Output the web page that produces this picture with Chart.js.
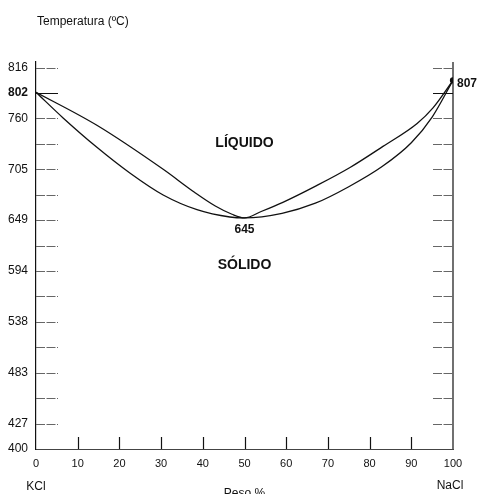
<!DOCTYPE html>
<html>
<head>
<meta charset="utf-8">
<script src="https://cdn.jsdelivr.net/npm/chart.js@4.4.1/dist/chart.umd.min.js"></script>
<style>
  html, body { margin: 0; padding: 0; background: #fff; }
  #wrap { width: 477px; height: 494px; }
</style>
</head>
<body>
<div id="wrap"><canvas id="diagram"></canvas></div>
<script>
    // peso % NaCl y temperatura
    const liquidusX = [0, 14.6, 30.5, 38, 43, 47, 50, 54, 59.2, 67.4, 75.3, 83.2, 91.4, 95.2, 100];
    const liquidusT = [789, 753, 705, 680, 665, 656, 652, 659, 669, 687.5, 707, 730, 755, 772, 802];

    const solidusX = [0, 6.5, 14.6, 22.5, 30.5, 38.6, 46.5, 50, 59, 67, 75, 83, 90, 95, 100];
    const solidusT = [789, 761, 729, 701, 677, 661, 653, 652, 657, 668, 686, 708, 734, 762, 802];

    // eje de temperaturas (marcas cada 50 ºF)
    const yTickValues = [400, 427.7, 455.5, 483.2, 510.9, 538.7, 566.4, 594.1, 621.9, 649.6, 677.3, 705.1, 732.8, 760.5, 788.3, 816];
    const yTickLabels = ['400', '427', '', '483', '', '538', '', '594', '', '649', '', '705', '', '760', '802', '816'];

    const xTickValues = [10, 20, 30, 40, 50, 60, 70, 80, 90];

    const FONT = "'Liberation Sans', Arial, Helvetica, sans-serif";
    Chart.defaults.font.family = FONT;
    Chart.defaults.color = '#111';

    const pts = (xs, ts) => xs.map((v, i) => ({ x: v, y: ts[i] }));

    const decor = {
        id: 'decor',
        afterDatasetsDraw(chart) {
            const ctx = chart.ctx;
            const a = chart.chartArea;
            const x = chart.scales.x, y = chart.scales.y;
            ctx.save();

            // eje derecho
            ctx.strokeStyle = '#111';
            ctx.lineWidth = 1.2;
            ctx.beginPath();
            ctx.moveTo(a.right, a.top);
            ctx.lineTo(a.right, a.bottom);
            ctx.stroke();

            // marcas interiores de temperatura
            yTickValues.forEach(function (v, i) {
                if (i === 0) return;
                const py = Math.round(y.getPixelForValue(v)) + 0.5;
                const strong = yTickLabels[i] === '802';
                ctx.strokeStyle = strong ? '#111' : '#666';
                ctx.lineWidth = 1;
                ctx.setLineDash(strong ? [] : [9, 1.5]);
                ctx.beginPath();
                ctx.moveTo(a.left, py);
                ctx.lineTo(a.left + 22, py);
                ctx.moveTo(a.right - 20, py);
                ctx.lineTo(a.right, py);
                ctx.stroke();
            });
            ctx.setLineDash([]);

            // marcas de peso %
            ctx.strokeStyle = '#111';
            ctx.lineWidth = 1.2;
            xTickValues.forEach(function (v) {
                const px = Math.round(x.getPixelForValue(v)) + 0.5;
                ctx.beginPath();
                ctx.moveTo(px, a.bottom);
                ctx.lineTo(px, a.bottom - 12);
                ctx.stroke();
            });

            // textos
            ctx.fillStyle = '#111';
            ctx.textBaseline = 'middle';
            ctx.textAlign = 'left';
            ctx.font = '12px ' + FONT;
            ctx.fillText('Temperatura (ºC)', 37, 22);

            ctx.font = 'bold 12px ' + FONT;
            ctx.fillText('807', a.right + 4, y.getPixelForValue(802) + 3);

            ctx.textAlign = 'center';
            const cx = x.getPixelForValue(50);
            ctx.fillText('645', cx, y.getPixelForValue(652) + 12);
            ctx.font = 'bold 14px ' + FONT;
            ctx.fillText('LÍQUIDO', cx, 143);
            ctx.fillText('SÓLIDO', cx, 265);

            ctx.font = '12px ' + FONT;
            ctx.fillText('KCl', x.getPixelForValue(0), 487);
            ctx.fillText('NaCl', x.getPixelForValue(100) - 3, 486);
            ctx.textBaseline = 'top';
            ctx.fillText('Peso %', cx, 488);

            ctx.restore();
        }
    };

    new Chart(document.getElementById('diagram'), {
        type: 'scatter',
        data: {
            datasets: [
                {
                    label: 'Líquidus',
                    data: pts(liquidusX, liquidusT),
                    showLine: true,
                    borderColor: '#111',
                    backgroundColor: '#111',
                    borderWidth: 1.3,
                    cubicInterpolationMode: 'monotone',
                    pointRadius: (c) => c.dataIndex === liquidusX.length - 1 ? 2.5 : 0
                },
                {
                    label: 'Sólidus',
                    data: pts(solidusX, solidusT),
                    showLine: true,
                    borderColor: '#111',
                    borderWidth: 1.3,
                    cubicInterpolationMode: 'monotone',
                    pointRadius: 0
                }
            ]
        },
        options: {
            responsive: true,
            maintainAspectRatio: false,
            animation: false,
            layout: { padding: { top: 62, right: 24, bottom: 0, left: 0 } },
            plugins: {
                legend: { display: false },
                tooltip: { enabled: false }
            },
            scales: {
                x: {
                    type: 'linear',
                    min: 0,
                    max: 100,
                    afterFit: (s) => { s.height = 45; },
                    grid: { display: false, drawTicks: false },
                    border: { display: true, color: '#444', width: 1, dash: [9, 2] },
                    ticks: {
                        stepSize: 10,
                        autoSkip: false,
                        maxRotation: 0,
                        padding: 8,
                        font: { size: 11 }
                    }
                },
                y: {
                    type: 'linear',
                    min: 400,
                    max: 822,
                    afterFit: (s) => { s.width = 36; },
                    afterBuildTicks: (s) => { s.ticks = yTickValues.map((v) => ({ value: v })); },
                    grid: { display: false, drawTicks: false },
                    border: { display: true, color: '#111', width: 1.2 },
                    ticks: {
                        autoSkip: false,
                        padding: 8,
                        callback: (v, i) => yTickLabels[i],
                        font: (c) => (c.index === 14 ? { size: 12, weight: 'bold' } : { size: 12 })
                    }
                }
            }
        },
        plugins: [decor]
    });
</script>
</body>
</html>
